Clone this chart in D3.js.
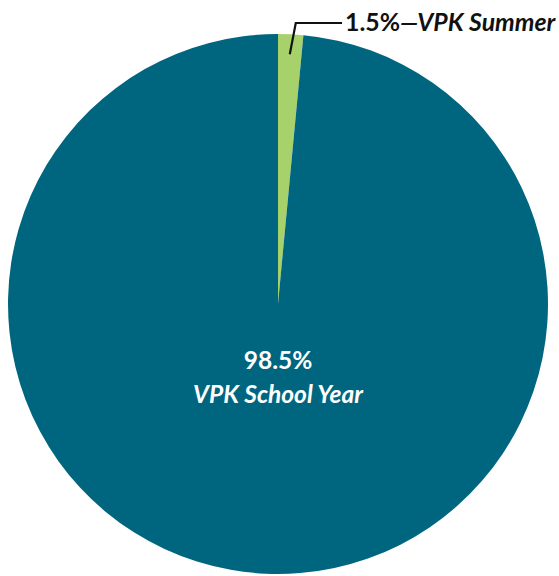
<!DOCTYPE html>
<meta charset="utf-8">
<script src="https://d3js.org/d3.v7.min.js"></script>
<style>
    body { margin: 0; background: #fff; }
    text { font-family: 'Lato', sans-serif; }
</style>
<body>
<svg width="559" height="576"></svg>
<script>
    // categorias y porcentajes
    var categorias = ["VPK Summer", "VPK School Year"];
    var valores = [1.5, 98.5];
    var etiquetas = ["1.5%", "98.5%"];
    var colores = ["#a6d16b", "#006680"];

    var svg = d3.select("svg");
    var cx = 278, cy = 304, radio = 270;

    var pie = d3.pie().sort(null).value(function (d) { return d; });
    var arc = d3.arc().innerRadius(0).outerRadius(radio);
    var arcos = pie(valores);

    var g = svg.append("g").attr("transform", "translate(" + cx + "," + cy + ")");

    g.selectAll("path")
        .data(arcos)
        .enter()
        .append("path")
        .attr("d", arc)
        .attr("fill", function (d, i) { return colores[i]; });

    // linea guia para la rebanada pequeña
    var pequeño = arcos[0];
    var p0 = d3.arc().innerRadius(radio - 20).outerRadius(radio - 20).centroid(pequeño);
    var p1 = [p0[0] + 6, -radio - 11];
    var p2 = [64, -radio - 11];
    g.append("polyline")
        .attr("points", [p0, p1, p2].map(function (p) { return p.join(","); }).join(" "))
        .attr("fill", "none")
        .attr("stroke", "#111")
        .attr("stroke-width", 2.2);

    var t1 = g.append("text")
        .attr("x", 67)
        .attr("y", -radio - 3)
        .attr("font-size", 24.8)
        .attr("font-weight", 700)
        .attr("fill", "#111");
    t1.append("tspan").text(etiquetas[0]);
    t1.append("tspan").attr("font-style", "italic").text("\u2014" + categorias[0]);

    // etiqueta central
    g.append("text")
        .attr("x", 0)
        .attr("y", 65)
        .attr("text-anchor", "middle")
        .attr("font-size", 24.5)
        .attr("font-weight", 700)
        .attr("fill", "#fff")
        .text(etiquetas[1]);
    g.append("text")
        .attr("x", 0)
        .attr("y", 99)
        .attr("text-anchor", "middle")
        .attr("font-size", 24.5)
        .attr("font-weight", 700)
        .attr("font-style", "italic")
        .attr("fill", "#fff")
        .text(categorias[1]);
</script>
</body>
